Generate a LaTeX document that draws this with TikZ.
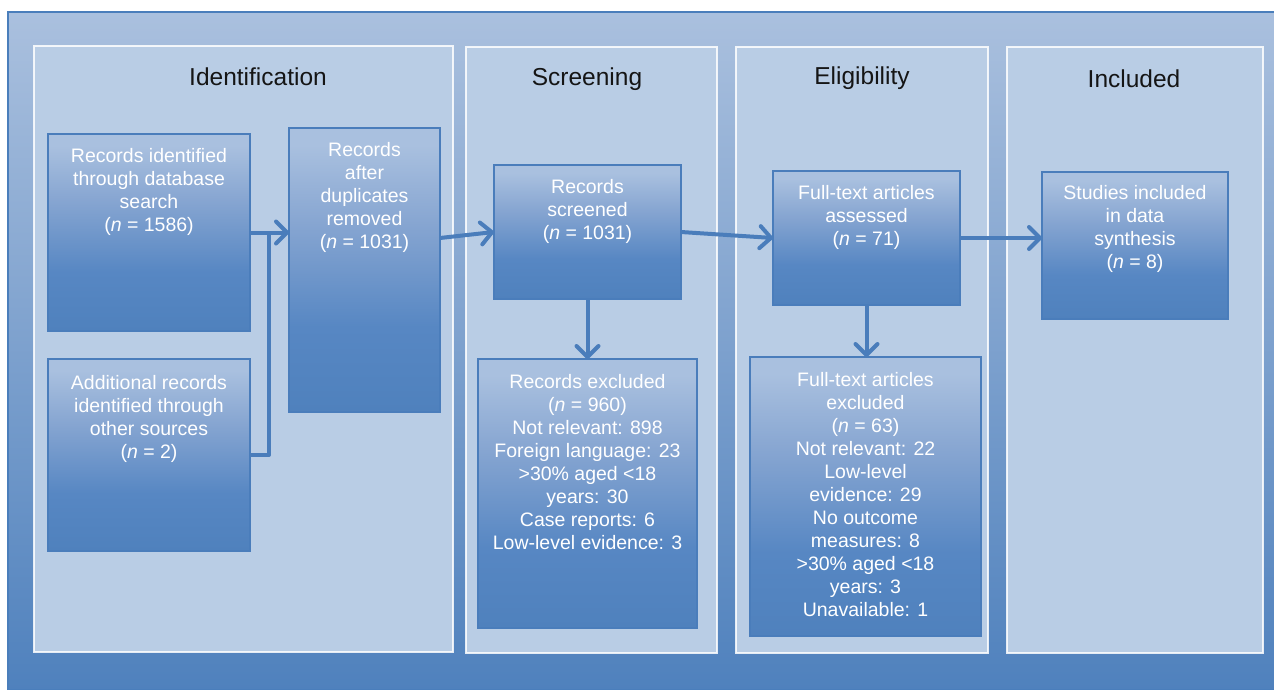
\documentclass[tikz,border=0pt]{standalone}
\usepackage{fontspec}
\setmainfont{Liberation Sans}
\usetikzlibrary{arrows.meta,calc}
\definecolor{frameblue}{HTML}{4A7EBB}
\definecolor{bgtop}{HTML}{AAC0DE}
\definecolor{bgbot}{HTML}{4F81BD}
\definecolor{panelfill}{HTML}{B9CDE5}
\definecolor{blight}{HTML}{A9C0DF}
\definecolor{bmid}{HTML}{86A5D1}
\definecolor{bdark}{HTML}{4F81BD}
\definecolor{bdarkish}{HTML}{5787C3}
\definecolor{bline}{HTML}{4A7DBB}
\definecolor{titlecol}{HTML}{151515}
\pgfdeclareverticalshading{boxshade}{100bp}{color(0bp)=(bdark); color(25bp)=(bdark); color(40bp)=(bdarkish); color(58bp)=(bmid); color(72bp)=(blight); color(100bp)=(blight)}
\tikzset{
  x=1pt, y=-1pt,
  panel/.style={draw=white, draw opacity=0.85, line width=1.5pt, fill=panelfill, anchor=north west, inner sep=0pt, outer sep=0pt},
  flowbox/.style={draw=bline, line width=1.2pt, shading=boxshade, anchor=north west, inner sep=0pt, outer sep=0pt},
  boxtext/.style={text=white, align=center, inner sep=0pt, anchor=north, font=\fontsize{19.5pt}{23pt}\selectfont},
  titletext/.style={text=titlecol, inner sep=0pt, font=\fontsize{24.5pt}{28pt}\selectfont},
  connline/.style={draw=bline, line width=4pt, line join=round},
  conn/.style={connline, -{Straight Barb[length=11pt,width=22pt,round]}},
}
\begin{document}
\begin{tikzpicture}
\useasboundingbox (0,0) rectangle (1274,689);
\fill[white] (0,0) rectangle (1274,689);
% background frame
\shade[top color=bgtop, bottom color=bgbot, draw=frameblue, line width=2pt] (8,12) rectangle (1275,690);
% panels
\node[panel, minimum width=419pt, minimum height=606pt] (P1) at (34,46) {};
\node[panel, minimum width=251pt, minimum height=606pt] (P2) at (466,47) {};
\node[panel, minimum width=252pt, minimum height=606pt] (P3) at (736,47) {};
\node[panel, minimum width=256pt, minimum height=606pt] (P4) at (1007,47) {};
\node[titletext] (T1) at (258,77) {Identification};
\node[titletext] (T2) at (587,79) {Screening};
\node[titletext] (T3) at (862,78) {Eligibility};
\node[titletext] (T4) at (1134,79) {Included};
% boxes
\node[flowbox, minimum width=202pt, minimum height=197pt] (A) at (48,134) {};
\node[flowbox, minimum width=202pt, minimum height=192pt] (B) at (48,359) {};
\node[flowbox, minimum width=151pt, minimum height=284pt] (C) at (289,128) {};
\node[flowbox, minimum width=187pt, minimum height=134pt] (D) at (494,165) {};
\node[flowbox, minimum width=219pt, minimum height=269pt] (E) at (478,359) {};
\node[flowbox, minimum width=187pt, minimum height=134pt] (F) at (773,171) {};
\node[flowbox, minimum width=231pt, minimum height=279pt] (G) at (750,357) {};
\node[flowbox, minimum width=186pt, minimum height=147pt] (H) at (1042,172) {};
% texts
\node[boxtext] (At) at ($(A.north)+(0,14)$) {Records identified\\through database\\search\\(\textit{n} = 1586)};
\node[boxtext] (Bt) at ($(B.north)+(0,16)$) {Additional records\\identified through\\other sources\\(\textit{n} = 2)};
\node[boxtext] (Ct) at ($(C.north)+(0,14)$) {Records\\after\\duplicates\\removed\\(\textit{n} = 1031)};
\node[boxtext] (Dt) at ($(D.north)+(0,14)$) {Records\\screened\\(\textit{n} = 1031)};
\node[boxtext] (Et) at ($(E.north)+(0,15)$) {Records excluded\\(\textit{n} = 960)\\Not relevant: 898\\Foreign language: 23\\>30\% aged <18\\years: 30\\Case reports: 6\\Low-level evidence: 3};
\node[boxtext] (Ft) at ($(F.north)+(0,14)$) {Full-text articles\\assessed\\(\textit{n} = 71)};
\node[boxtext] (Gt) at ($(G.north)+(0,15)$) {Full-text articles\\excluded\\(\textit{n} = 63)\\Not relevant: 22\\Low-level\\evidence: 29\\No outcome\\measures: 8\\>30\% aged <18\\years: 3\\Unavailable: 1};
\node[boxtext] (Ht) at ($(H.north)+(0,13)$) {Studies included\\in data\\synthesis\\(\textit{n} = 8)};
% connectors
\coordinate (j1) at (269,234);
\draw[connline] (B.east) -- (j1 |- B.east) -- (j1 |- A.east);
\draw[conn] (A.east) -- (C.west |- A.east);
\draw[conn] ($(C.east)+(0,-32)$) -- (D.west);
\draw[conn] (D.east) -- (F.west);
\draw[conn] (F.east) -- (H.west |- F.east);
\draw[conn] (D.south) -- (E.north);
\draw[conn] (F.south) -- (F.south |- G.north);
\end{tikzpicture}
\end{document}
